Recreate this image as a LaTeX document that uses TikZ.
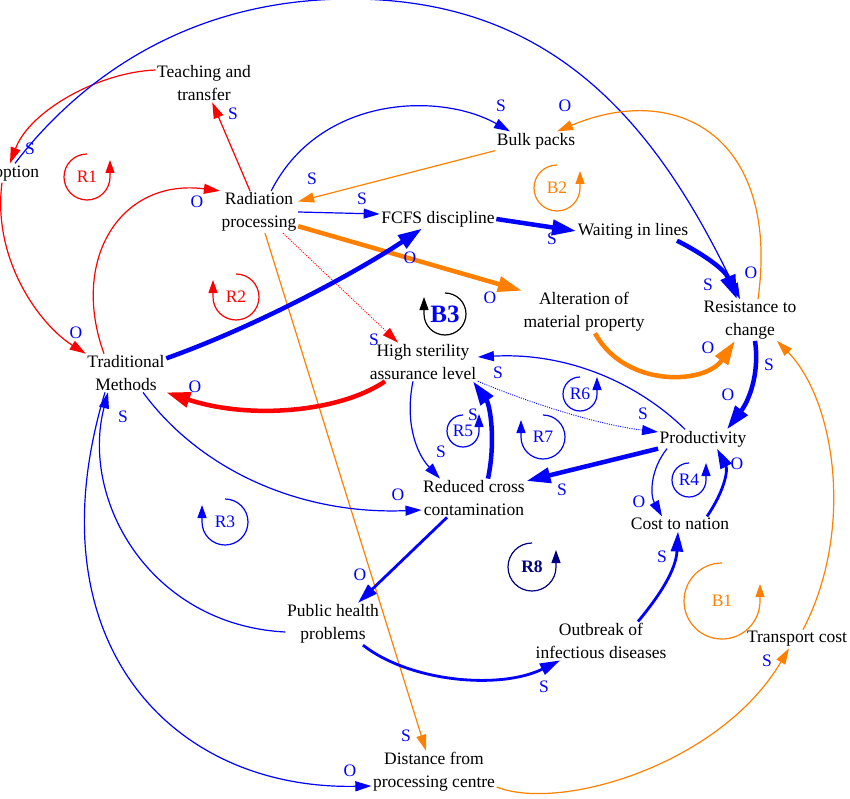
\documentclass[tikz,border=0pt]{standalone}
\usepackage{fontspec}
\setmainfont{Liberation Serif}
\usetikzlibrary{arrows.meta}

\definecolor{cldblue}{RGB}{0,0,255}
\definecolor{cldred}{RGB}{255,0,0}
\definecolor{cldorange}{RGB}{255,128,0}
\definecolor{cldnavy}{RGB}{0,0,128}

\tikzset{
  var/.style={align=center, inner sep=1.5pt, font=\fontsize{17.5}{23}\selectfont},
  pol/.style={inner sep=0pt, text=cldblue, font=\fontsize{17.5}{20}\selectfont},
  loopname/.style={inner sep=0pt, font=\fontsize{17.5}{20}\selectfont},
  thin link/.style={line width=1.2pt, -{Triangle[length=16pt,width=10pt]}},
  dot link/.style={line width=0.9pt, dash pattern=on 1pt off 1.3pt, -{Triangle[length=16pt,width=10pt]}},
  mid link/.style={line width=2.8pt, -{Triangle[length=20pt,width=12pt]}},
  thick link/.style={line width=4.5pt, -{Triangle[length=24pt,width=15pt]}},
  loop arrow/.style={line width=1.2pt, -{Triangle[length=13pt,width=9pt]}},
}

\begin{document}
\begin{tikzpicture}[x=1pt,y=-1pt]
\useasboundingbox (0,0) rectangle (850,799);

\node[var] (adopt)  at (6,173)   {Adoption};
\node[var] (teach)  at (204,83)  {Teaching and\\transfer};
\node[var] (rad)    at (259,212) {Radiation\\processing};
\node[var] (bulk)   at (536,141) {Bulk packs};
\node[var] (fcfs)   at (438,219) {FCFS discipline};
\node[var] (wait)   at (633,231) {Waiting in lines};
\node[var] (alter)  at (584,312) {Alteration of\\material property};
\node[var] (resist) at (750,320) {Resistance to\\change};
\node[var] (trad)   at (126,373) {Traditional\\Methods};
\node[var] (hsal)   at (423,362) {High sterility\\assurance level};
\node[var] (prod)   at (703,439) {Productivity};
\node[var] (rcc)    at (474,498) {Reduced cross\\contamination};
\node[var] (cost)   at (680,524) {Cost to nation};
\node[var] (pub)    at (333,624) {Public health\\problems};
\node[var] (out)    at (601,641) {Outbreak of\\infectious diseases};
\node[var] (trans)  at (797,639) {Transport cost};
\node[var] (dist)   at (434,772) {Distance from\\processing centre};

\draw[thin link, cldred] (teach.165) .. controls (100,72) and (30,110) .. ([xshift=4pt]adopt.north);
\draw[thin link, cldblue] ([xshift=9pt]adopt.north) .. controls (65,98) and (170,-1) .. (350,-1)
  .. controls (550,-1) and (654,119) .. ([xshift=-10pt]resist.north);
\draw[thin link, cldred] ([xshift=-4pt]adopt.south) .. controls (-8,260) and (40,325) .. (trad.north west);
\draw[thin link, cldred] ([xshift=-22pt]trad.north) .. controls (70,260) and (120,178) .. (rad.north west);
\draw[thin link, cldred] (rad) -- (teach);
\draw[thin link, cldblue] (rad.60) .. controls (320,95) and (440,92) .. ([xshift=-26pt]bulk.north);
\draw[thin link, cldorange] (bulk.south west) -- (rad.15);
\draw[thin link, cldblue] (rad.east) -- ([yshift=5pt]fcfs.west);
\draw[thick link, cldorange] (rad.-20) -- (alter.north west);
\draw[dot link, cldred] ([xshift=24pt]rad.south) -- ([xshift=-25pt]hsal.north);
\draw[thin link, cldorange] ([xshift=6pt]rad.south) -- ([xshift=-8pt]dist.north);
\draw[thin link, cldorange] ([xshift=8pt]resist.north) .. controls (780,140) and (680,80) .. ([xshift=21pt]bulk.north);
\draw[thick link, cldblue] (fcfs.east) -- (wait.west);
\draw[thick link, cldblue] ([xshift=44pt]wait.south) .. controls (705,255) and (725,270) .. ([xshift=-13pt]resist.north);
\draw[thick link, cldblue] (trad.20) .. controls (260,325) and (360,270) .. ([xshift=-16pt]fcfs.south);
\draw[thick link, cldred] ([xshift=-38pt]hsal.south) .. controls (340,412) and (250,420) .. (trad.south east);
\draw[thin link, cldblue] ([xshift=17pt]trad.south) .. controls (200,470) and (300,515) .. ([yshift=-12pt]rcc.west);
\draw[thin link, cldblue] ([yshift=-8pt]pub.west) .. controls (150,625) and (80,500) .. ([xshift=-18pt]trad.south);
\draw[thin link, cldblue] ([xshift=-21pt]trad.south) .. controls (30,640) and (170,790) .. ([yshift=-14pt]dist.west);
\draw[thin link, cldblue] ([xshift=-10pt]hsal.south) .. controls (405,420) and (415,452) .. ([xshift=-34pt]rcc.north);
\draw[thick link, cldblue] ([xshift=14pt]rcc.north) .. controls (496,440) and (490,405) .. ([xshift=50pt]hsal.south);
\draw[thin link, cldblue] ([xshift=-18pt]prod.north) .. controls (640,385) and (570,352) .. ([yshift=5pt]hsal.east);
\draw[dot link, cldblue] (hsal.south east) .. controls (535,405) and (600,425) .. ([yshift=7pt]prod.west);
\draw[thick link, cldblue] ([xshift=5pt]resist.south) .. controls (760,375) and (748,402) .. ([xshift=24pt]prod.north);
\draw[thick link, cldorange] ([xshift=11pt]alter.south) .. controls (625,388) and (705,385) .. ([xshift=-15pt]resist.south);
\draw[thin link, cldorange] ([xshift=6pt]trans.north) .. controls (855,530) and (835,400) .. ([xshift=27pt]resist.south);
\draw[thick link, cldblue] (prod.south west) -- ([yshift=17pt]rcc.east);
\draw[thin link, cldblue] ([xshift=-36pt]prod.south) .. controls (650,470) and (650,495) .. ([xshift=-18pt]cost.north);
\draw[mid link, cldblue] ([xshift=27pt]cost.north) .. controls (725,490) and (728,470) .. ([xshift=14pt]prod.south);
\draw[mid link, cldblue] ([xshift=-27pt]rcc.south) -- ([xshift=25pt]pub.north);
\draw[mid link, cldblue] ([xshift=30pt]pub.south) .. controls (410,682) and (500,690) .. ([xshift=-41pt]out.south);
\draw[mid link, cldblue] ([xshift=37pt]out.north) .. controls (660,595) and (676,570) .. ([xshift=-2pt]cost.south);
\draw[thin link, cldorange] ([yshift=-15pt]dist.east) .. controls (560,812) and (720,765) .. ([xshift=-8pt]trans.south);

\node[loopname, cldred] (r1) at (87,177) {R1};
\node[loopname, cldred] (r2) at (236,297) {R2};
\node[loopname, cldorange] (b2) at (557,188) {B2};
\node[loopname, cldblue, font=\fontsize{25}{28}\selectfont\bfseries] (b3) at (445,314) {B3};
\node[loopname, cldblue] (r3) at (225,522) {R3};
\node[loopname, cldblue] (r5) at (463,431) {R5};
\node[loopname, cldblue] (r6) at (580,394) {R6};
\node[loopname, cldblue] (r7) at (543,437) {R7};
\node[loopname, cldblue] (r4) at (689,480) {R4};
\node[loopname, cldnavy, font=\fontsize{17.5}{20}\selectfont\bfseries] (r8) at (532,567) {R8};
\node[loopname, cldorange] (b1) at (722,601) {B1};

\foreach \n/\r/\c in {r1/23/cldred, b2/23/cldorange, r5/16/cldblue, r6/17/cldblue, r4/17/cldblue, r8/24/cldnavy, b1/38/cldorange}
  \draw[loop arrow, color=\c] (\n.center) ++(0,-\r) arc[start angle=270, end angle=0, radius=\r] -- ++(0,-17);
\foreach \n/\r/\c in {r2/23/cldred, b3/21/black, r3/23/cldblue, r7/22/cldblue}
  \draw[loop arrow, color=\c] (\n.center) ++(0,-\r) arc[start angle=270, end angle=540, radius=\r] -- ++(0,-17);

\foreach \x/\y/\t [count=\i] in {30/149/S, 233/114/S, 197/202/O, 501/106/S, 565/106/O, 312/179/S,
    362/199/S, 552/239/S, 410/258/O, 490/298/O, 374/340/S, 708/285/S, 751/273/O, 708/348/O,
    769/365/S, 728/395/O, 195/387/O, 76/333/O, 123/417/S, 498/373/S, 643/414/S, 473/415/S,
    441/452/S, 398/495/O, 562/490/S, 639/502/O, 737/464/O, 360/575/O, 544/687/S, 406/736/S,
    350/771/O, 662/557/S, 767/661/S}
  \node[pol] (pol\i) at (\x,\y) {\t};
\end{tikzpicture}
\end{document}
